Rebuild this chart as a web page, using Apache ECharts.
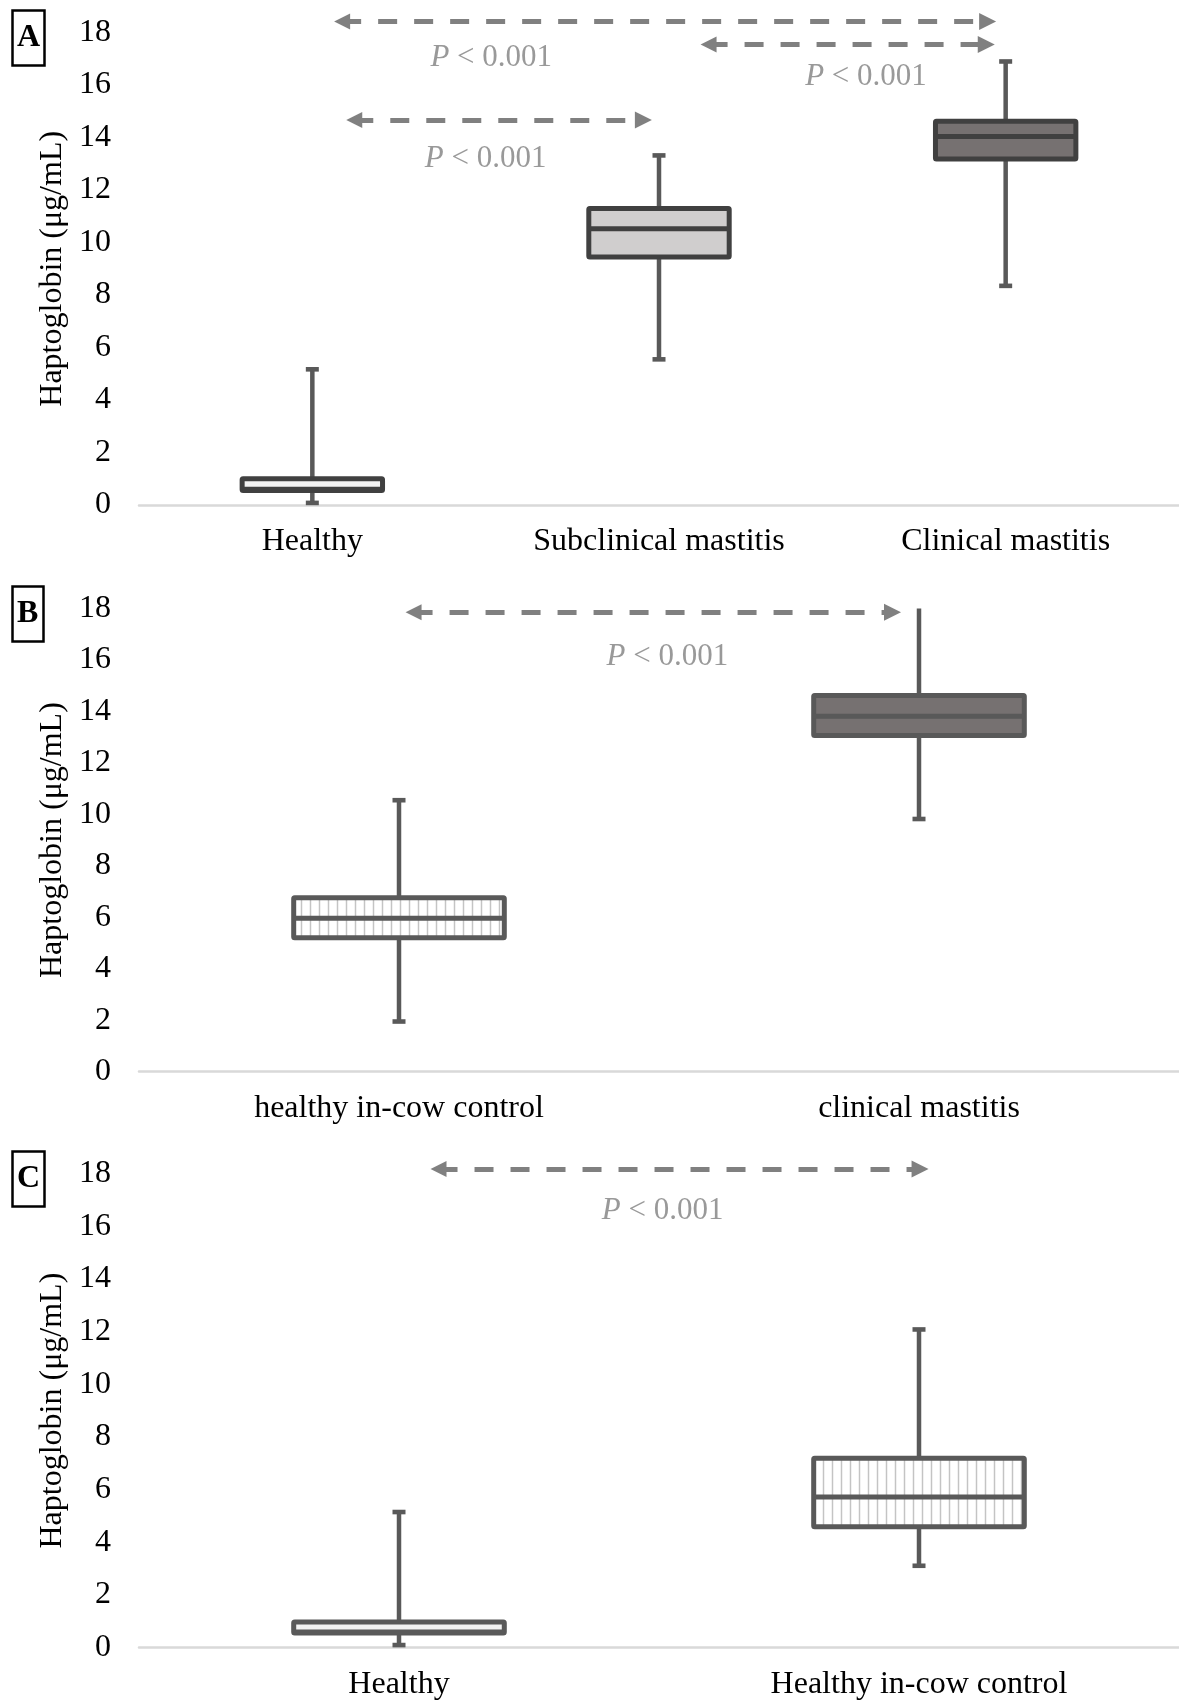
<!DOCTYPE html>
<html>
<head>
<meta charset="utf-8">
<script src="https://cdn.jsdelivr.net/npm/echarts@6/dist/echarts.min.js"></script>
<style>
  html, body { margin: 0; padding: 0; background: #fff; }
  #chart { width: 1179px; height: 1703px; }
</style>
</head>
<body>
<div id="chart"></div>
<script>
// box values: [min, q1, median, q3, max]
var catsA = ["Healthy", "Subclinical mastitis", "Clinical mastitis"];
var boxA = [[0.08, 0.55, 0.6, 1.0, 5.17], [5.55, 9.45, 10.53, 11.3, 13.32], [8.35, 13.18, 14.04, 14.62, 16.9]];
var catsB = ["healthy in-cow control", "clinical mastitis"];
var boxB = [[1.95, 5.21, 5.96, 6.76, 10.55], [9.82, 13.06, 13.81, 14.62, 18.1]];
var catsC = ["Healthy", "Healthy in-cow control"];
var boxC = [[0.1, 0.56, 0.6, 0.98, 5.15], [3.11, 4.59, 5.72, 7.19, 12.08]];

// significance arrows: [from, to, level] (x in category index units)
var arrowsA = [[0.086, 1.948, 18.42], [1.143, 1.944, 17.55], [0.121, 0.955, 14.67]];
var arrowsB = [[0.028, 0.949, 17.85]];
var arrowsC = [[0.076, 1.002, 18.17]];
// p value label positions: [x, y]
var pTextA = [[0.516, 17.05], [1.597, 16.3], [0.5, 13.2]];
var pTextB = [[0.516, 16.14]];
var pTextC = [[0.507, 16.6]];

var yTicks = { min: 0, max: 18, interval: 2 };
var font = "'Liberation Serif', 'Times New Roman', serif";

var chart = echarts.init(document.getElementById("chart"));

// vertical hatch used for the "in-cow control" boxes
function hatch() {
    var c = document.createElement("canvas");
    c.width = 9;
    c.height = 10;
    var ctx = c.getContext("2d");
    ctx.fillStyle = "#ffffff";
    ctx.fillRect(0, 0, 9, 10);
    ctx.strokeStyle = "#c4c4c4";
    ctx.lineWidth = 1.5;
    ctx.beginPath();
    ctx.moveTo(4.5, 0);
    ctx.lineTo(4.5, 10);
    ctx.stroke();
    return { image: c, repeat: "repeat" };
}
var hatchFill = hatch();

function boxRender(fills, edge) {
    return function (params, api) {
        var i = api.value(0);
        var band = api.size([1, 0])[0];
        var w = band * 0.405;
        var lo = api.coord([i, api.value(1)]);
        var q1 = api.coord([i, api.value(2)]);
        var md = api.coord([i, api.value(3)]);
        var q3 = api.coord([i, api.value(4)]);
        var hi = api.coord([i, api.value(5)]);
        var top = api.coord([i, yTicks.max]);
        var cx = lo[0];
        var wStyle = { stroke: "#595959", lineWidth: 4.5 };
        var kids = [
            { type: "line", shape: { x1: cx, y1: Math.max(hi[1], top[1]), x2: cx, y2: q3[1] }, style: wStyle },
            { type: "line", shape: { x1: cx, y1: q1[1], x2: cx, y2: lo[1] }, style: wStyle },
            { type: "rect", shape: { x: cx - 6.5, y: lo[1] - 2.3, width: 13, height: 4.6 }, style: { fill: "#595959" } }
        ];
        if (hi[1] > top[1]) {
            kids.push({ type: "rect", shape: { x: cx - 6.5, y: hi[1] - 2.3, width: 13, height: 4.6 }, style: { fill: "#595959" } });
        }
        kids.push({
            type: "rect",
            shape: { x: cx - w / 2, y: q3[1], width: w, height: q1[1] - q3[1], r: 1 },
            style: { fill: fills[params.dataIndex], stroke: edge, lineWidth: 5 }
        });
        kids.push({ type: "line", shape: { x1: cx - w / 2, y1: md[1], x2: cx + w / 2, y2: md[1] }, style: { stroke: edge, lineWidth: 5 } });
        return { type: "group", children: kids };
    };
}

var panels = [
    { cats: catsA, box: boxA, arrows: arrowsA, ptext: pTextA, top: 32.6, height: 472.4, label: "A", labelTop: 11,
      fills: ["#f2f2f2", "#d0cece", "#767171"], edge: "#404040" },
    { cats: catsB, box: boxB, arrows: arrowsB, ptext: pTextB, top: 608.5, height: 463.2, label: "B", labelTop: 587,
      fills: [hatchFill, "#767171"], edge: "#595959" },
    { cats: catsC, box: boxC, arrows: arrowsC, ptext: pTextC, top: 1173.5, height: 474.2, label: "C", labelTop: 1152,
      fills: ["#f2f2f2", hatchFill], edge: "#595959" }
];

var grid = [], xAxis = [], yAxis = [], series = [], title = [];
var n = panels.length;

panels.forEach(function (p, k) {
    grid.push({ left: 139, right: 0, top: p.top, height: p.height });
    title.push({
        text: p.label, left: 12, top: p.labelTop,
        padding: [12, 5, 12, 5],
        borderColor: "#000", borderWidth: 2.5,
        textStyle: { fontFamily: font, fontWeight: "bold", fontSize: 32, color: "#000", lineHeight: 30 }
    });
    yAxis.push({
        type: "value", gridIndex: k, min: yTicks.min, max: yTicks.max, interval: yTicks.interval,
        name: "Haptoglobin (μg/mL)", nameLocation: "middle", nameGap: 68,
        nameTextStyle: { fontFamily: font, fontSize: 32, color: "#000" },
        axisLine: { show: false }, axisTick: { show: false }, splitLine: { show: false },
        axisLabel: { fontFamily: font, fontSize: 32, color: "#000", margin: 28 }
    });
});
panels.forEach(function (p, k) {
    xAxis.push({
        type: "category", gridIndex: k, data: p.cats, boundaryGap: true,
        axisLine: { lineStyle: { color: "#d9d9d9", width: 2.5 } },
        axisTick: { show: false },
        axisLabel: { fontFamily: font, fontSize: 32, color: "#000", margin: 21 }
    });
});
// hidden value axes for placing the arrows and p labels between categories
panels.forEach(function (p, k) {
    xAxis.push({ type: "value", gridIndex: k, min: -0.5, max: p.cats.length - 0.5, show: false });
});

panels.forEach(function (p, k) {
    series.push({
        type: "custom", xAxisIndex: k, yAxisIndex: k,
        renderItem: boxRender(p.fills, p.edge),
        encode: { x: 0, y: [1, 2, 3, 4, 5] },
        data: p.box.map(function (b, i) { return [i].concat(b); }),
        silent: true
    });
    series.push({
        type: "lines", coordinateSystem: "cartesian2d", xAxisIndex: n + k, yAxisIndex: k,
        clip: false, silent: true, z: 5,
        symbol: ["triangle", "triangle"], symbolSize: [16, 17],
        lineStyle: { color: "#808080", width: 5, type: [19, 17], opacity: 1 },
        data: p.arrows.map(function (a) {
            return { coords: [[a[0], a[2]], [a[1], a[2]]] };
        })
    });
    series.push({
        type: "scatter", xAxisIndex: n + k, yAxisIndex: k, clip: false, silent: true,
        symbolSize: 1, itemStyle: { color: "rgba(0,0,0,0)" },
        label: {
            show: true, position: "inside",
            formatter: "{i|P} < 0.001",
            fontFamily: font, fontSize: 31, color: "#808080",
            rich: { i: { fontFamily: font, fontSize: 31, fontStyle: "italic", color: "#808080" } }
        },
        data: p.ptext
    });
});

chart.setOption({
    animation: false,
    backgroundColor: "#fff",
    title: title,
    grid: grid,
    xAxis: xAxis,
    yAxis: yAxis,
    series: series
});
</script>
</body>
</html>
